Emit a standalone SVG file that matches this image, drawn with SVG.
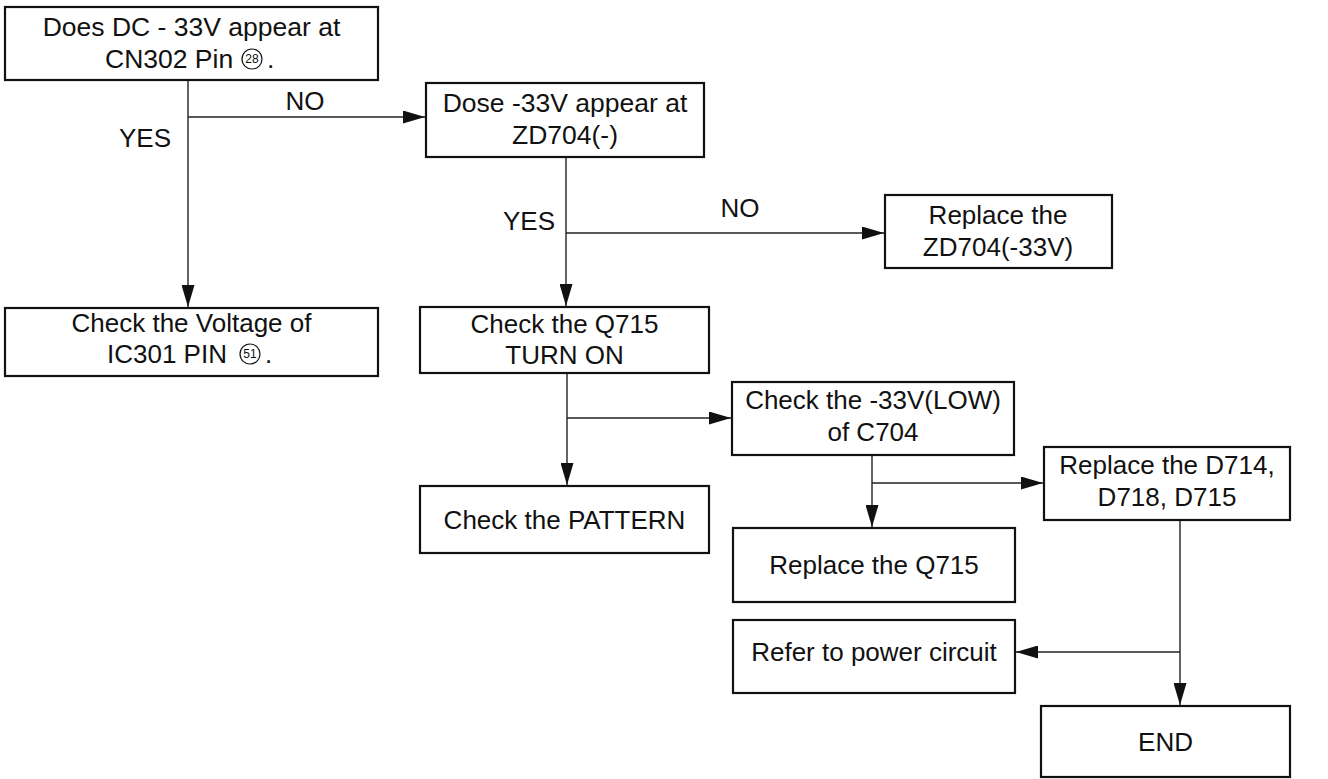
<svg xmlns="http://www.w3.org/2000/svg" width="1328" height="779" viewBox="0 0 1328 779">
<style>
.box{fill:#fff;stroke:#111;stroke-width:2.2}
.t{font-family:"Liberation Sans",Arial,sans-serif;font-size:26px;fill:#111;text-anchor:middle}
.tl{font-family:"Liberation Sans",Arial,sans-serif;font-size:26px;fill:#111}
.big{font-size:26.5px}
.cn{font-family:"Liberation Sans",Arial,sans-serif;font-size:12px;fill:#111;text-anchor:middle}
.circ{fill:none;stroke:#111;stroke-width:1.2}
.c{fill:none;stroke:#222;stroke-width:1.4}
</style>
<defs>
<marker id="ah" markerUnits="userSpaceOnUse" markerWidth="22" markerHeight="13" refX="22" refY="6.5" orient="auto">
<path d="M0,0 L22,6.5 L0,13 z" fill="#111"/>
</marker>
</defs>
<g id="connectors">
<line class="c" x1="188" y1="80" x2="188" y2="307" marker-end="url(#ah)"/>
<line class="c" x1="188" y1="117" x2="425" y2="117" marker-end="url(#ah)"/>
<line class="c" x1="566" y1="157" x2="566" y2="306" marker-end="url(#ah)"/>
<line class="c" x1="566" y1="233" x2="884" y2="233" marker-end="url(#ah)"/>
<line class="c" x1="567" y1="373" x2="567" y2="485" marker-end="url(#ah)"/>
<line class="c" x1="567" y1="418" x2="731" y2="418" marker-end="url(#ah)"/>
<line class="c" x1="872" y1="455" x2="872" y2="527" marker-end="url(#ah)"/>
<line class="c" x1="872" y1="483" x2="1043" y2="483" marker-end="url(#ah)"/>
<line class="c" x1="1180" y1="520" x2="1180" y2="705" marker-end="url(#ah)"/>
<line class="c" x1="1180" y1="652" x2="1016" y2="652" marker-end="url(#ah)"/>
<text class="t" x="305" y="110">NO</text>
<text class="t" x="145" y="147">YES</text>
<text class="t" x="529" y="230">YES</text>
<text class="t" x="740" y="217">NO</text>
</g>
<g id="n1">
<rect class="box" x="5" y="7" width="373" height="73"/>
<text class="t big" x="191.5" y="36">Does DC - 33V appear at</text>
<text class="tl big" x="105" y="68">CN302 Pin</text>
<circle class="circ" cx="252" cy="59" r="10"/>
<text class="cn" x="252" y="63">28</text>
<text class="tl big" x="267" y="68">.</text>
</g>
<g id="n2">
<rect class="box" x="426" y="83" width="278" height="74"/>
<text class="t big" x="565" y="112">Dose -33V appear at</text>
<text class="t big" x="565" y="144">ZD704(-)</text>
</g>
<g id="n3">
<rect class="box" x="885" y="195" width="227" height="73"/>
<text class="t" x="998" y="224">Replace the</text>
<text class="t" x="998" y="256">ZD704(-33V)</text>
</g>
<g id="n4">
<rect class="box" x="5" y="308" width="373" height="68"/>
<text class="t" x="191.5" y="332">Check the Voltage of</text>
<text class="tl" x="107" y="363">IC301 PIN</text>
<circle class="circ" cx="250" cy="354" r="10"/>
<text class="cn" x="250" y="358">51</text>
<text class="tl" x="265" y="363">.</text>
</g>
<g id="n5">
<rect class="box" x="420" y="307" width="289" height="66"/>
<text class="t" x="564.5" y="333">Check the Q715</text>
<text class="t" x="564.5" y="364">TURN ON</text>
</g>
<g id="n6">
<rect class="box" x="732" y="382" width="282" height="73"/>
<text class="t" x="873" y="409">Check the -33V(LOW)</text>
<text class="t" x="873" y="441">of C704</text>
</g>
<g id="n7">
<rect class="box" x="420" y="486" width="289" height="67"/>
<text class="t" x="564.5" y="529">Check the PATTERN</text>
</g>
<g id="n8">
<rect class="box" x="1044" y="447" width="246" height="73"/>
<text class="t" x="1167" y="474">Replace the D714,</text>
<text class="t" x="1167" y="506">D718, D715</text>
</g>
<g id="n9">
<rect class="box" x="733" y="528" width="282" height="74"/>
<text class="t" x="874" y="574">Replace the Q715</text>
</g>
<g id="n10">
<rect class="box" x="733" y="620" width="282" height="73"/>
<text class="t" x="874" y="661">Refer to power circuit</text>
</g>
<g id="n11">
<rect class="box" x="1041" y="706" width="249" height="71"/>
<text class="t" x="1165.5" y="751">END</text>
</g>
</svg>
